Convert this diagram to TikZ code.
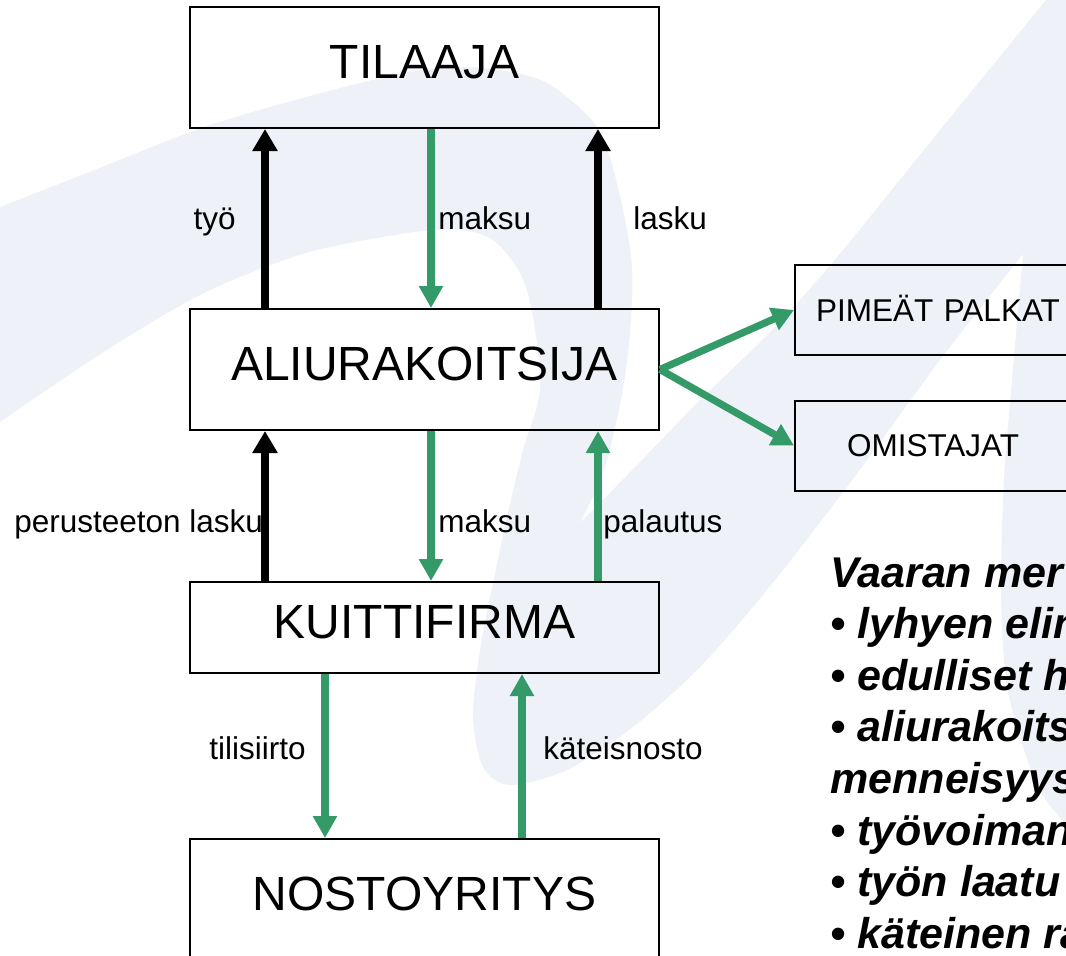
\documentclass[tikz,border=0pt]{standalone}
\usepackage{fontspec}
\setmainfont{Liberation Sans}
\usetikzlibrary{arrows.meta}
\definecolor{arrowgreen}{RGB}{52,154,104}
\definecolor{swoosh}{RGB}{238,241,247}
\tikzstyle{box}=[draw, line width=1pt, minimum width=234.5pt, inner sep=0pt, text height=17.2pt, text depth=6pt, font=\fontsize{24}{28.8}\selectfont]
\tikzstyle{sidebox}=[draw, line width=1pt, minimum height=45pt, inner ysep=0pt, anchor=west, align=left, text height=11.3pt, text depth=0pt, font=\fontsize{15.75}{19}\selectfont]
\tikzstyle{lbl}=[inner sep=0pt, font=\fontsize{15.75}{19}\selectfont]
\tikzstyle{riski}=[inner sep=0pt, anchor=base west, font=\fontsize{21.5}{25.8}\selectfont\bfseries\itshape]
\tikzstyle{blackarrow}=[line width=4pt, -{Triangle[width=12pt,length=11pt]}]
\tikzstyle{greenarrow}=[arrowgreen, line width=3.6pt, -{Triangle[width=11.5pt,length=11pt]}]

\begin{document}
\begin{tikzpicture}[x=0.5pt, y=-0.5pt]
    \useasboundingbox (0,0) rectangle (1066,955);
    \clip (0,0) rectangle (1066,955);
% Background swoosh
    \fill[swoosh] plot[smooth] coordinates {(0,207) (102,167) (204,127) (306,97) (408,72) (470,67) (533,77) (567,97) (601,133) (621,200) (632,267) (630,333) (621,400) (604,470) (580,523)}
        -- plot[smooth] coordinates {(580,523) (640,462) (700,400) (767,335) (833,262) (940,130) (1046,0)}
        -- (1046,-10) -- (1090,-10) -- (1090,850)
        -- plot[smooth] coordinates {(1090,850) (1046,800) (1023,747) (1006,680) (1001,591) (1004,479) (1013,368) (1023,254)}
        -- plot[smooth] coordinates {(1023,254) (940,360) (850,483) (767,590) (700,667) (633,727) (567,770) (510,785) (483,767) (473,717) (480,650) (493,583) (507,517) (523,450) (540,390) (533,317) (520,273) (493,240) (459,230) (408,233) (306,253) (204,293) (102,353) (0,422)}
        -- cycle;
% Boxes
    \node[box, minimum height=60.5pt] (tilaaja) at (424.5,67.5) {TILAAJA};
    \node[box, minimum height=60.5pt] (aliurakoitsija) at (424.5,369.5) {ALIURAKOITSIJA};
    \node[box, minimum height=45.5pt] (kuittifirma) at (424.5,627.5) {KUITTIFIRMA};
    \node[box, minimum height=60.5pt] (nostoyritys) at (424.5,899.5) {NOSTOYRITYS};
    \node[sidebox, inner xsep=10.5pt, text width=129pt] (pimeat) at (794,310) {PIMEÄT PALKAT};
    \node[sidebox, inner xsep=26pt, text width=98pt] (omistajat) at (794,445.5) {OMISTAJAT};
% Arrows
    \draw[blackarrow] ([xshift=38pt]aliurakoitsija.north west) -- ([xshift=38pt]tilaaja.south west);
    \draw[greenarrow] ([xshift=121pt]tilaaja.south west) -- ([xshift=121pt]aliurakoitsija.north west);
    \draw[blackarrow] ([xshift=204.5pt]aliurakoitsija.north west) -- ([xshift=204.5pt]tilaaja.south west);
    \draw[blackarrow] ([xshift=38pt]kuittifirma.north west) -- ([xshift=38pt]aliurakoitsija.south west);
    \draw[greenarrow] ([xshift=121pt]aliurakoitsija.south west) -- ([xshift=121pt]kuittifirma.north west);
    \draw[greenarrow] ([xshift=204.5pt]kuittifirma.north west) -- ([xshift=204.5pt]aliurakoitsija.south west);
    \draw[greenarrow] ([xshift=68pt]kuittifirma.south west) -- ([xshift=68pt]nostoyritys.north west);
    \draw[greenarrow] ([xshift=166.5pt]nostoyritys.north west) -- ([xshift=166.5pt]kuittifirma.south west);
    \draw[greenarrow] (aliurakoitsija.east) -- (pimeat.west);
    \draw[greenarrow] (aliurakoitsija.east) -- (omistajat.west);
% Arrow labels
    \node[lbl, anchor=base east] (tyo) at (236,229) {työ};
    \node[lbl, anchor=base west] (maksuA) at (438,229) {maksu};
    \node[lbl, anchor=base west] (lasku) at (633,229) {lasku};
    \node[lbl, anchor=base west] (perusteeton) at (14,532) {perusteeton lasku};
    \node[lbl, anchor=base west] (maksuB) at (438,532) {maksu};
    \node[lbl, anchor=base west] (palautus) at (603,532) {palautus};
    \node[lbl, anchor=base east] (tilisiirto) at (306,759) {tilisiirto};
    \node[lbl, anchor=base west] (kateisnosto) at (543,759) {käteisnosto};
% Warning signs
    \node[riski] (merkit) at (830,587) {Vaaran mer};
    \node[riski] (riski1) at (830,638.6) {• lyhyen elin};
    \node[riski] (riski2) at (830,690.2) {• edulliset h};
    \node[riski] (riski3) at (830,741.8) {• aliurakoits};
    \node[riski] (riski3b) at (830,793.4) {menneisyys};
    \node[riski] (riski4) at (830,845) {• työvoiman};
    \node[riski] (riski5) at (830,896.6) {• työn laatu};
    \node[riski] (riski6) at (830,948.2) {• käteinen ra};
\end{tikzpicture}
\end{document}
